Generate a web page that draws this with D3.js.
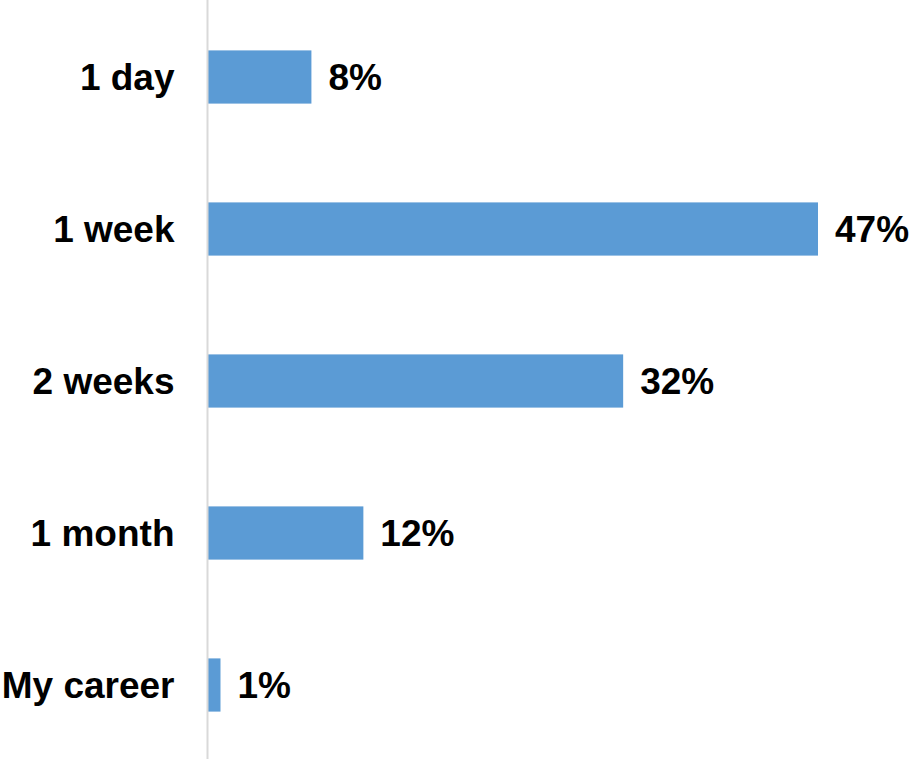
<!DOCTYPE html>
<html>
<head>
<meta charset="utf-8">
<script src="https://cdn.jsdelivr.net/npm/d3@7"></script>
<style>
  html, body { margin: 0; padding: 0; background: #fff; }
  svg { display: block; }
</style>
</head>
<body>
<svg id="chart" width="912" height="759"></svg>
<script>
// Horizon of planning: share of respondents per answer
const categories = ["1 day", "1 week", "2 weeks", "1 month", "My career"];
const shares = [8, 47, 32, 12, 1];
const valueLabels = ["8%", "47%", "32%", "12%", "1%"];

const width = 912, height = 759;
const axisX = 207.5;
const barColor = "#5b9bd5";
const fontFamily = "'Liberation Sans', Arial, sans-serif";
const fontSize = 37;

const svg = d3.select("#chart");

const x = d3.scaleLinear()
  .domain([0, 47])
  .range([axisX, 818]);

const y = d3.scaleBand()
  .domain(categories)
  .range([1, 761])
  .paddingInner(0.65)
  .paddingOuter(0.325);

// bars
svg.append("g")
  .selectAll("rect")
  .data(categories)
  .join("rect")
  .attr("x", x(0))
  .attr("y", d => y(d))
  .attr("width", (d, i) => x(shares[i]) - x(0))
  .attr("height", y.bandwidth())
  .attr("fill", barColor);

// category axis (line only, labels drawn beside it)
const yAxis = d3.axisLeft(y).tickSize(0).tickPadding(33);
const gAxis = svg.append("g")
  .attr("transform", `translate(${axisX},0)`)
  .call(yAxis);
gAxis.select(".domain")
  .attr("d", `M0,0V${height}`)
  .attr("stroke", "#d9d9d9")
  .attr("stroke-width", 2);
gAxis.selectAll("text")
  .attr("font-family", fontFamily)
  .attr("font-size", fontSize)
  .attr("font-weight", "bold")
  .attr("fill", "#000")
  .attr("dy", "0.36em");

// value labels at the end of each bar
svg.append("g")
  .selectAll("text")
  .data(categories)
  .join("text")
  .attr("x", (d, i) => x(shares[i]) + 17)
  .attr("y", d => y(d) + y.bandwidth() / 2)
  .attr("dy", "0.36em")
  .attr("font-family", fontFamily)
  .attr("font-size", fontSize)
  .attr("font-weight", "bold")
  .attr("fill", "#000")
  .text((d, i) => valueLabels[i]);
</script>
</body>
</html>
